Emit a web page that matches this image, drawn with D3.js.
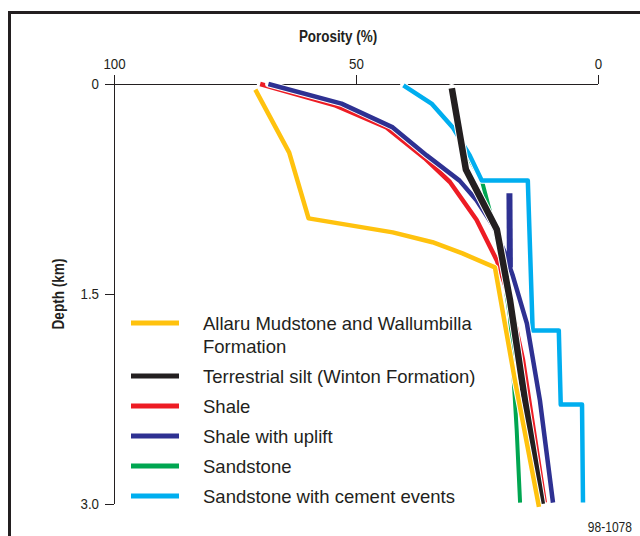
<!DOCTYPE html>
<html><head><meta charset="utf-8">
<script src="https://cdn.jsdelivr.net/npm/d3@7"></script>
<style>
body{margin:0;background:#fff;}
text{font-family:"Liberation Sans",Arial,Helvetica,sans-serif;}
</style></head>
<body><svg id="c" width="640" height="536"></svg>
<script>
// ---- data: [porosity %, depth km] ----
const allaru = [[70.8,0.04],[63.8,0.49],[59.8,0.96],[42.4,1.06],[34.2,1.13],[28.0,1.21],[21.3,1.31],[17.2,2.11],[12.2,3.02]];
const terrestrial = [[30.2,0.03],[27.3,0.61],[20.9,1.04],[18.2,1.54],[15.1,2.26],[11.6,3.0]];
const shale = [[69.8,0.0],[54.5,0.15],[43.7,0.31],[35.8,0.53],[30.6,0.7],[25.1,0.97],[20.9,1.26],[18.2,1.54],[15.5,1.97],[11.0,2.99]];
const shaleUplift = [[68.1,0.0],[53.0,0.14],[42.4,0.31],[35.4,0.51],[28.6,0.69],[25.1,0.83],[21.7,1.01],[18.8,1.24],[18.2,1.31],[17.6,1.37],[14.7,1.71],[12.0,2.26],[9.3,2.99]];
const upliftExcursion = [[18.2,1.31],[18.3,0.78]];
const sandstone = [[40.2,0.01],[34.4,0.14],[30.0,0.31],[26.5,0.54],[24.0,0.69],[22.4,0.9],[20.3,1.19],[18.2,1.66],[16.8,2.47],[16.1,2.99]];
const sandstoneCement = [[40.2,0.01],[34.4,0.14],[30.0,0.31],[26.5,0.51],[24.0,0.69],[14.5,0.69],[13.5,1.76],[8.1,1.76],[7.7,2.29],[3.3,2.29],[3.1,2.99]];

const seriesNames = ["Allaru Mudstone and Wallumbilla|Formation","Terrestrial silt (Winton Formation)","Shale","Shale with uplift","Sandstone","Sandstone with cement events"];
const seriesColors = ["#FFC20E","#231F20","#ED1C24","#2E3192","#00A651","#00AEEF"];
const seriesData = [allaru, terrestrial, shale, shaleUplift, sandstone, sandstoneCement];
const xTicks = [100,50,0];
const yTicks = [0,1.5,3.0];
const yTickLabels = ["0","1.5","3.0"];

const INK = "#231F20";
const svg = d3.select("#c");
const x = d3.scaleLinear().domain([100,0]).range([114,598]);
const y = d3.scaleLinear().domain([0,3]).range([84,504]);
const SX = 0.86; // condensed look

// frame
svg.append("path").attr("d","M9.5,700 L9.5,12.5 L700,12.5").attr("fill","none").attr("stroke",INK).attr("stroke-width",3);

// top axis
const xa = svg.append("g").attr("transform","translate(0,84)").call(d3.axisTop(x).tickValues(xTicks).tickSize(9).tickPadding(6).tickFormat(d3.format("d")));
xa.select(".domain").attr("stroke",INK).attr("d","M114,0.5H598");
xa.selectAll("line").attr("stroke",INK);
xa.selectAll("text").attr("font-size",15.5).attr("fill",INK).attr("transform",`scale(${SX},1)`);

const ya = svg.append("g").attr("transform","translate(114,0)").call(d3.axisLeft(y).tickValues(yTicks).tickSize(9).tickPadding(6).tickFormat((d,i)=>yTickLabels[i]));
ya.select(".domain").attr("stroke",INK).attr("d","M0.5,84V504");
ya.selectAll("line").attr("stroke",INK);
ya.selectAll("text").attr("font-size",15.5).attr("fill",INK).attr("x",-15/SX).attr("transform",`scale(${SX},1)`);

svg.append("text").attr("transform","translate(338,42) scale(0.79,1)").attr("text-anchor","middle")
  .attr("font-weight","bold").attr("font-size",17).attr("fill",INK).text("Porosity (%)");
svg.append("text").attr("transform","translate(64,294) rotate(-90) scale(0.8,1)").attr("text-anchor","middle")
  .attr("font-weight","bold").attr("font-size",17).attr("fill",INK).text("Depth (km)");

// legend
const legY = [323,376,406,436,466,496];
const lg = svg.append("g");
seriesNames.forEach((n,i)=>{
  lg.append("line").attr("x1",131).attr("x2",179).attr("y1",legY[i]).attr("y2",legY[i]).attr("stroke",seriesColors[i]).attr("stroke-width",5);
  const t = lg.append("text").attr("x",203).attr("y",legY[i]+6.5).attr("font-size",18.5).attr("fill",INK);
  n.split("|").forEach((s,j)=>t.append("tspan").attr("x",203).attr("dy",j?23:0).text(s));
});

// series lines
const line = d3.line().x(d=>x(d[0])).y(d=>y(d[1]));
function casing(data,w){
  svg.append("path").datum(data).attr("d",line).attr("fill","none").attr("stroke","#fff")
    .attr("stroke-width",w+2).attr("stroke-linejoin","round").attr("stroke-linecap","round");
}
function stroke(data,color,w){
  svg.append("path").datum(data).attr("d",line).attr("fill","none").attr("stroke",color)
    .attr("stroke-width",w).attr("stroke-linejoin","round");
}
const widths = [4.5,6.5,4.5,4.5,4,4.5];
[4,5,2].forEach(i=>{casing(seriesData[i],widths[i]); stroke(seriesData[i],seriesColors[i],widths[i]);});
casing(shaleUplift,widths[3]); casing(upliftExcursion,6);
stroke(upliftExcursion,seriesColors[3],6); stroke(shaleUplift,seriesColors[3],widths[3]);
[1,0].forEach(i=>{casing(seriesData[i],widths[i]); stroke(seriesData[i],seriesColors[i],widths[i]);});

svg.append("text").attr("transform","translate(632,532) scale(0.86,1)").attr("text-anchor","end").attr("font-size",14).attr("fill",INK).text("98-1078");
</script></body></html>
